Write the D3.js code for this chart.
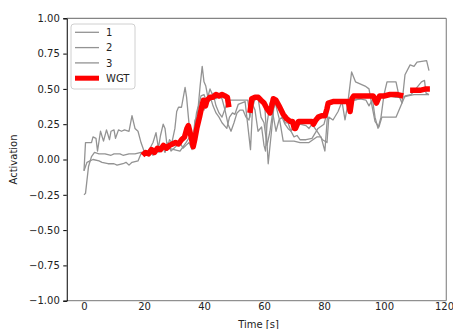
<!DOCTYPE html>
<html><head><meta charset="utf-8">
<script src="https://cdn.jsdelivr.net/npm/d3@7"></script>
<style>body{margin:0;background:#fff} text{font-family:"DejaVu Sans",sans-serif}</style>
</head><body><svg id="c" width="453" height="329"></svg>
<script>
const seriesNames = ["1", "2", "3", "WGT"];
const xTicks = [0, 20, 40, 60, 80, 100, 120];
const yTicks = [-1, -0.75, -0.5, -0.25, 0, 0.25, 0.5, 0.75, 1];

// [time (s), activation]
const series1 = [[0,-0.08],[0.5,0.12],[2.5,0.12],[3,0.16],[4,0.15],[4.5,0.06],[5.5,0.2],[6.5,0.13],[7.5,0.21],[8.5,0.14],[9,0.2],[10,0.21],[10.5,0.15],[11.5,0.21],[12.5,0.2],[13.5,0.21],[15,0.2],[16,0.31],[17,0.22],[18,0.2],[19,0.12],[20,0.06],[21,0.05],[22,0.08],[23,0.12],[24,0.19],[24.8,0.08],[25.5,0.17],[26.4,0.25],[27,0.22],[27.8,0.08],[28.5,0.14],[29.3,0.12],[30.3,0.22],[30.9,0.34],[31.5,0.37],[32.5,0.37],[33.7,0.51],[34.2,0.44],[34.8,0.3],[35.4,0.17],[36.5,0.17],[37.5,0.33],[38.1,0.38],[38.7,0.52],[39.4,0.66],[40,0.55],[40.6,0.52],[41.3,0.44],[42,0.45],[43,0.38],[44,0.33],[45,0.3],[46,0.26],[47.6,0.22],[48.5,0.3],[49.5,0.33],[50.3,0.32],[51.4,0.39],[53.7,0.41],[55.5,0.07],[56.2,0.37],[57,0.43],[59,0.43],[60.3,0.37],[61.4,-0.03],[62.5,0.2],[63.5,0.42],[65.3,0.27],[66.4,0.13],[70,0.13],[72,0.12],[75,0.12],[77.6,0.16],[79,0.16],[80.3,0.06],[81.4,0.38],[83,0.4],[86,0.4],[88,0.41],[89.2,0.62],[90.5,0.55],[93.7,0.52],[95,0.5],[95.9,0.39],[97,0.27],[98.3,0.23],[99.3,0.3],[102,0.3],[104,0.3],[106,0.4],[107,0.6],[108.7,0.67],[110,0.66],[111,0.69],[114.2,0.7],[115,0.63]];
const series2 = [[0,-0.25],[0.5,-0.24],[1.5,-0.05],[2.5,0.02],[3.5,0.05],[5,0.04],[7,0.04],[9,0.03],[10,0.04],[12,0.04],[13,0.03],[15,0.04],[17,0.04],[19,0.05],[20,0.05],[22,0.05],[24,0.07],[26,0.07],[28,0.08],[30,0.07],[32,0.06],[34,0.12],[35.5,0.17],[36.5,0.15],[38,0.36],[39,0.45],[40,0.46],[41,0.4],[42,0.42],[43,0.47],[44,0.38],[45,0.33],[46,0.3],[47,0.36],[48,0.42],[50,0.42],[52,0.42],[54.6,0.42],[55.3,0.3],[56,0.44],[58,0.44],[59,0.3],[60,0.26],[61,0.1],[62,0.2],[63,0.35],[64,0.42],[66,0.35],[67,0.26],[68,0.26],[69,0.2],[70,0.24],[72,0.25],[74,0.24],[75,0.22],[76,0.25],[78,0.19],[79.5,0.14],[81,0.12],[81.6,0.3],[83,0.28],[84.7,0.34],[86,0.41],[87,0.28],[88,0.4],[90,0.42],[92,0.43],[94,0.45],[96,0.45],[97,0.3],[98,0.22],[99,0.3],[100,0.46],[101,0.55],[104,0.55],[105,0.45],[106,0.4],[107,0.45],[109,0.46],[112.5,0.55],[113.5,0.56],[114,0.47],[115,0.46]];
const series3 = [[0,-0.08],[1,-0.02],[2,-0.01],[3,0.0],[5,-0.01],[6,-0.02],[8,-0.03],[10,-0.03],[11,-0.04],[13,-0.03],[14,-0.02],[15,-0.04],[16,-0.02],[18,-0.01],[19,0.04],[20,0.04],[21,0.045],[22,0.05],[23,0.03],[24,0.08],[25,0.05],[26,0.1],[27,0.05],[28,0.12],[29,0.06],[30,0.08],[31,0.1],[32,0.12],[33,0.08],[34,0.1],[35,0.12],[36,0.07],[37,0.28],[38,0.3],[39,0.4],[40,0.35],[41,0.42],[42,0.5],[43,0.45],[44,0.43],[45,0.45],[46,0.43],[47,0.35],[48,0.25],[49,0.2],[50,0.26],[51,0.33],[52,0.35],[53,0.35],[54,0.3],[55,0.28],[56,0.4],[57,0.35],[58,0.2],[59.2,0.23],[60,0.1],[60.5,0.06],[61,0.25],[62,0.4],[63,0.32],[64,0.2],[65,0.28],[66,0.3],[67,0.25],[68,0.22],[69,0.2],[70,0.16],[71,0.17],[72,0.14],[74,0.14],[76,0.15],[78,0.22],[80,0.25],[81,0.33],[82,0.4],[84,0.41],[86,0.41],[88,0.42],[90,0.42],[92,0.43],[94,0.42],[95,0.38],[96,0.42],[98,0.44],[100,0.44],[102,0.45],[104,0.44],[106,0.44],[108,0.45],[110,0.46],[112,0.46],[115,0.46]];
const seriesWGT = [[19.5,0.03],[20.5,0.05],[21.5,0.04],[22.5,0.07],[23.5,0.05],[24.5,0.08],[25.5,0.07],[26.5,0.1],[27.5,0.08],[28.5,0.1],[29.5,0.11],[30.5,0.12],[31.5,0.11],[32.5,0.14],[33.5,0.16],[34.3,0.22],[34.8,0.24],[35.5,0.18],[36.4,0.09],[37,0.15],[37.6,0.22],[38.5,0.3],[39.3,0.38],[39.8,0.42],[40.5,0.38],[41,0.42],[42,0.44],[43,0.44],[44,0.46],[45,0.45],[46,0.46],[47,0.45],[47.8,0.44],[48.3,0.37],null,[55.3,0.33],[55.9,0.43],[57,0.44],[58.1,0.44],[59,0.42],[60,0.4],[61,0.36],[62,0.33],[62.6,0.38],[63.1,0.43],[64,0.42],[65,0.38],[66.4,0.32],[67.5,0.29],[68.7,0.27],[69.5,0.27],[70.1,0.22],[70.5,0.22],[71.5,0.27],[73,0.27],[74.5,0.27],[75.9,0.27],[76.5,0.25],[77.3,0.28],[78.1,0.3],[79.2,0.31],[80.3,0.31],[81,0.36],[81.4,0.4],[83,0.41],[85,0.41],[87,0.41],[88.1,0.41],[88.7,0.34],[89.3,0.43],[89.9,0.45],[92,0.45],[94,0.45],[96.4,0.45],[97.5,0.4],[98.5,0.45],[100,0.45],[102,0.46],[103,0.46],[104.5,0.46],[106.4,0.45],null,[108.7,0.49],[110,0.49],[112,0.49],[114,0.5],[115.3,0.5]];

const svg = d3.select("#c");
const L = 66.75, R = 446.25, T = 18.3, B = 300.7;
const x = d3.scaleLinear().domain([-5.75, 120.75]).range([L, R]);
const y = d3.scaleLinear().domain([-1, 1]).range([B, T]);

const line = d3.line().defined(d => d !== null).x(d => x(d[0])).y(d => y(d[1]));
const grey = "#939393";
[series1, series2, series3].forEach(s => {
  svg.append("path").attr("d", line(s)).attr("fill", "none")
    .attr("stroke", grey).attr("stroke-width", 1.3).attr("stroke-linejoin", "round");
});
svg.append("path").attr("d", line(seriesWGT)).attr("fill", "none")
  .attr("stroke", "#ff0000").attr("stroke-width", 5.5).attr("stroke-linejoin", "round");

// spines
svg.append("line").attr("x1", L).attr("x2", R).attr("y1", T).attr("y2", T).attr("stroke", "#666").attr("stroke-width", 1);
svg.append("line").attr("x1", R).attr("x2", R).attr("y1", T).attr("y2", B).attr("stroke", "#777").attr("stroke-width", 1);
svg.append("line").attr("x1", L).attr("x2", R).attr("y1", B).attr("y2", B).attr("stroke", "#777").attr("stroke-width", 1);

const ya = svg.append("g").attr("transform", `translate(${L},0)`)
  .call(d3.axisLeft(y).tickValues(yTicks).tickFormat(d3.format(".2f")).tickSize(3.5).tickPadding(3.5));
ya.select(".domain").attr("stroke", "#000");
ya.selectAll("text").attr("font-size", 10).attr("font-family", "DejaVu Sans").attr("fill", "#222");
const xa = svg.append("g").attr("transform", `translate(0,${B})`)
  .call(d3.axisBottom(x).tickValues(xTicks).tickSize(0).tickPadding(2));
xa.select(".domain").remove();
xa.selectAll("text").attr("font-size", 10).attr("font-family", "DejaVu Sans").attr("fill", "#222");

svg.append("text").attr("x", (L + R) / 2 + 2).attr("y", 328).attr("text-anchor", "middle")
  .attr("font-size", 10).attr("fill", "#222").text("Time [s]");
svg.append("text").attr("transform", `translate(17,${y(0)}) rotate(-90)`).attr("text-anchor", "middle")
  .attr("font-size", 10).attr("fill", "#222").text("Activation");

// legend
const lg = svg.append("g");
lg.append("rect").attr("x", 71).attr("y", 24).attr("width", 64).attr("height", 65).attr("rx", 3)
  .attr("fill", "#fff").attr("fill-opacity", 0.85).attr("stroke", "#d0d0d0");
seriesNames.forEach((n, i) => {
  const yy = 32.3 + i * 15.3;
  const isW = n === "WGT";
  lg.append("line").attr("x1", 75).attr("x2", 99).attr("y1", yy).attr("y2", yy)
    .attr("stroke", isW ? "#ff0000" : grey).attr("stroke-width", isW ? 5 : 1.3);
  lg.append("text").attr("x", 106).attr("y", yy + 3.6).attr("font-size", 10).attr("fill", "#222").text(n);
});
</script></body></html>
